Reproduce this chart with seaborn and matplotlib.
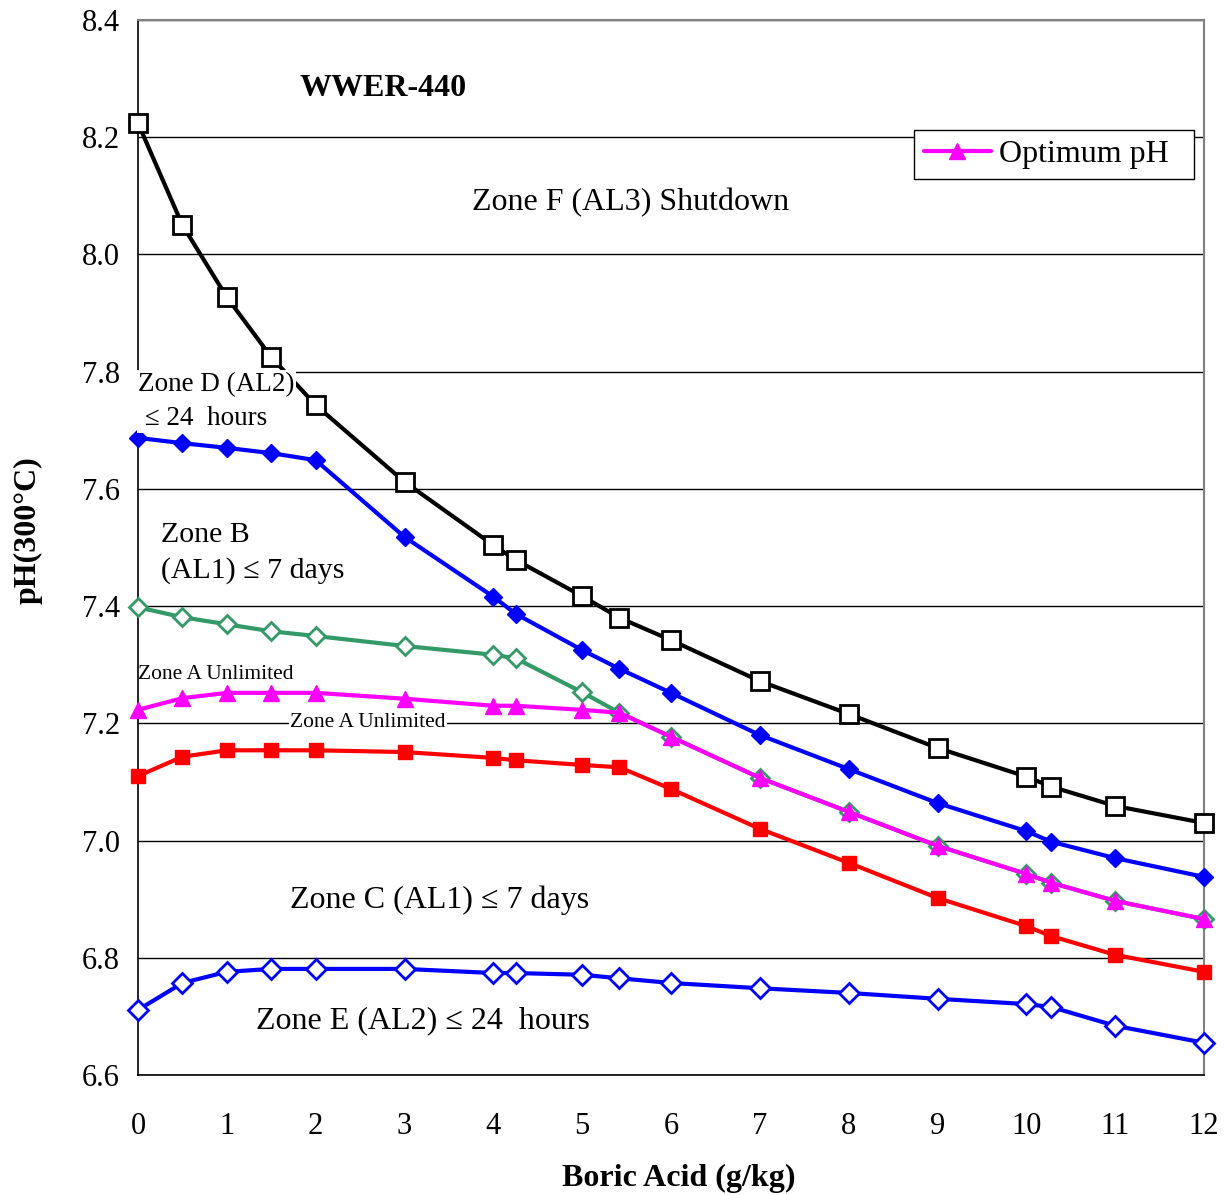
import matplotlib
matplotlib.use("Agg")
import matplotlib.pyplot as plt
import seaborn as sns
import pandas as pd
from matplotlib.lines import Line2D

# ---- data ----
boric = [0, 0.5, 1, 1.5, 2, 3, 4, 4.25, 5, 5.42, 6, 7, 8, 9, 10, 10.28, 11, 12]
zone_f_limit = [8.224, 8.050, 7.927, 7.825, 7.743, 7.612, 7.504, 7.479, 7.417, 7.380,
                7.342, 7.272, 7.216, 7.158, 7.109, 7.092, 7.059, 7.030]
zone_d_limit = [7.687, 7.678, 7.670, 7.661, 7.649, 7.518, 7.416, 7.387, 7.325, 7.293,
                7.252, 7.180, 7.122, 7.064, 7.016, 6.998, 6.970, 6.938]
zone_b_limit = [7.398, 7.381, 7.369, 7.357, 7.349, 7.332, 7.317, 7.311, 7.253, 7.218,
                7.177, 7.107, 7.049, 6.991, 6.943, 6.928, 6.897, 6.866]
optimum_ph = [7.223, 7.243, 7.252, 7.252, 7.252, 7.242, 7.230, 7.230, 7.223, 7.218,
              7.177, 7.107, 7.049, 6.991, 6.943, 6.928, 6.897, 6.866]
zone_c_limit = [7.110, 7.143, 7.154, 7.154, 7.154, 7.151, 7.141, 7.137, 7.129, 7.125,
                7.088, 7.020, 6.962, 6.902, 6.854, 6.837, 6.805, 6.776]
zone_e_limit = [6.711, 6.757, 6.776, 6.781, 6.781, 6.781, 6.774, 6.774, 6.771, 6.765,
                6.757, 6.748, 6.740, 6.730, 6.721, 6.716, 6.684, 6.655]

x_ticks = list(range(0, 13))
y_ticks = [6.6, 6.8, 7.0, 7.2, 7.4, 7.6, 7.8, 8.0, 8.2, 8.4]

sns.set_theme(style="white")
plt.rcParams['font.family'] = ['Liberation Serif', 'DejaVu Serif']
plt.rcParams['text.color'] = 'black'
plt.rcParams['axes.labelcolor'] = 'black'
plt.rcParams['xtick.color'] = 'black'
plt.rcParams['ytick.color'] = 'black'

fig = plt.figure(figsize=(12.31, 11.95), dpi=100)
ax = fig.add_axes([138/1231, 1 - 1075/1195, (1204-138)/1231, (1075-20)/1195])

def draw(y, color, marker, ms, mfc, mec, mew, z):
    df = pd.DataFrame({"x": boric, "y": y})
    sns.lineplot(data=df, x="x", y="y", ax=ax, color=color, lw=3.0,
                 marker=marker, markersize=ms, markerfacecolor=mfc,
                 markeredgecolor=mec, markeredgewidth=mew, zorder=z,
                 legend=False, estimator=None, sort=False, clip_on=False)

draw(zone_f_limit, "black", "s", 13, "white", "black", 2.0, 5)
draw(zone_d_limit, "#0000FF", "D", 9, "#0000FF", "#0000FF", 1.0, 5)
draw(zone_b_limit, "#339966", "D", 9.5, "white", "#339966", 2.0, 4)
draw(optimum_ph, "#FF00FF", "^", 11, "#FF00FF", "#FF00FF", 1.0, 6)
draw(zone_c_limit, "#FF0000", "s", 10, "#FF0000", "#FF0000", 1.0, 5)
draw(zone_e_limit, "#0000FF", "D", 10, "white", "#0000FF", 2.0, 5)

ax.set_xlim(0, 12)
ax.set_ylim(6.6, 8.4)
ax.set_xticks(x_ticks)
ax.set_yticks(y_ticks)
ax.set_yticklabels([f"{v:.1f}" for v in y_ticks])
ax.tick_params(axis='x', labelsize=22, length=7, width=1.2, direction='out',
               colors='black', pad=20)
ax.tick_params(axis='y', labelsize=22, length=7, width=1.2, direction='in',
               colors='black', pad=13)
ax.yaxis.grid(True, color='black', lw=1.0, zorder=0)
ax.xaxis.grid(False)
ax.set_axisbelow(True)
for s in ['left', 'bottom']:
    ax.spines[s].set_color('black')
    ax.spines[s].set_linewidth(1.2)
for s in ['top', 'right']:
    ax.spines[s].set_color('#808080')
    ax.spines[s].set_linewidth(1.5)

ax.set_xlabel("Boric Acid (g/kg)", fontsize=23, fontweight='bold', labelpad=16,
              color='black')
ax.set_ylabel("pH(300°C)", fontsize=23, fontweight='bold', labelpad=28, color='black')
ax.xaxis.label.set_x(0.5075)
ax.yaxis.label.set_y(0.5166)

# annotations
d = -0.006
kw = dict(color='black')
ax.text(2.76, 8.289 + d, "WWER-440", fontsize=23, fontweight='bold', ha='center',
        va='center', **kw)
ax.text(5.54, 8.095 + d, "Zone F (AL3) Shutdown", fontsize=23, ha='center', va='center', **kw)
ax.text(0.0, 7.755 + d, "Zone D (AL2)\n ≤ 24  hours", fontsize=19.5, ha='left', va='center',
        linespacing=1.5, zorder=10,
        bbox=dict(facecolor='white', edgecolor='none', pad=1), **kw)
ax.text(0.26, 7.496 + d, "Zone B\n(AL1) ≤ 7 days", fontsize=21.5, ha='left', va='center',
        linespacing=1.45, **kw)
ax.text(0.0, 7.289 + d, "Zone A Unlimited", fontsize=15.5, ha='left', va='center',
        zorder=10, **kw)
ax.text(2.59, 7.207 + d, "Zone A Unlimited", fontsize=15.5, ha='center', va='center',
        zorder=3, bbox=dict(facecolor='white', edgecolor='none', pad=1), **kw)
ax.text(1.71, 6.904 + d, "Zone C (AL1) ≤ 7 days", fontsize=23, ha='left', va='center', **kw)
ax.text(1.33, 6.699 + d, "Zone E (AL2) ≤ 24  hours", fontsize=23, ha='left', va='center', **kw)

h = Line2D([], [], color="#FF00FF", lw=3.0, marker="^", markersize=11,
           markerfacecolor="#FF00FF", markeredgecolor="#FF00FF")
leg = ax.legend(handles=[h], labels=["Optimum pH  "], loc='upper right',
                bbox_to_anchor=(0.9906, 0.8957), borderaxespad=0, fontsize=23,
                frameon=True, fancybox=False, framealpha=1, edgecolor='black',
                handlelength=2.1, borderpad=0.3, handletextpad=0.25)
leg.get_frame().set_linewidth(1.0)
for t in leg.get_texts():
    t.set_color('black')

fig.savefig("out.png", dpi=100)
